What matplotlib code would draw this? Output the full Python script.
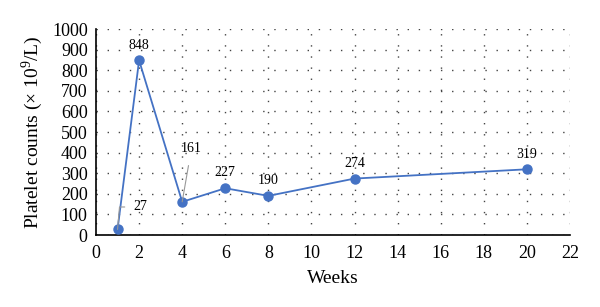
import matplotlib
matplotlib.use("Agg")
import matplotlib.pyplot as plt

weeks = [1, 2, 4, 6, 8, 12, 20]
platelets = [27, 848, 161, 227, 190, 274, 319]
labels = ["27", "848", "161", "227", "190", "274", "319"]

plt.rcParams['font.family'] = ['Liberation Serif', 'DejaVu Serif']
plt.rcParams['mathtext.fontset'] = 'custom'
plt.rcParams['mathtext.rm'] = 'Liberation Serif'

fig = plt.figure(figsize=(6, 3.07), dpi=100)
ax = fig.add_axes([0.16, 0.2345, 0.79, 0.671])

ax.plot(weeks, platelets, color='#4472C4', lw=1.3, marker='o', ms=6.5, zorder=3)

ax.set_xlim(0, 22)
ax.set_ylim(0, 1000)
ax.set_xticks(range(0, 23, 2))
ax.set_yticks(range(0, 1001, 100))
ax.tick_params(axis='both', length=0, labelsize=13)
ax.tick_params(axis='x', pad=7)
ax.tick_params(axis='y', pad=6)

ax.grid(True, color='#444444', linestyle=(0, (1, 7)), lw=1.0)
for s in ['top', 'right']:
    ax.spines[s].set_visible(False)
ax.spines['left'].set_linewidth(1.2)
ax.spines['bottom'].set_linewidth(1.2)

ax.set_xlabel('Weeks', fontsize=14, labelpad=6)
ax.set_ylabel('Platelet counts (\u00d7 10$^{\\mathrm{9}}$/L)', fontsize=14, labelpad=5)

for x, y, t in zip(weeks, platelets, labels):
    if t == "27":
        ax.annotate(t, xy=(x, y), xytext=(1.72, 136), fontsize=10, ha='left', va='center',
                    arrowprops=dict(arrowstyle='-', color='#999999', lw=0.8,
                                    connectionstyle='angle,angleA=0,angleB=85,rad=0',
                                    shrinkA=4, shrinkB=0))
    elif t == "161":
        ax.annotate(t, xy=(x, y), xytext=(3.95, 422), fontsize=10, ha='left', va='center',
                    arrowprops=dict(arrowstyle='-', color='#999999', lw=0.8,
                                    shrinkA=6, shrinkB=0))
    else:
        ax.annotate(t, xy=(x, y), xytext=(0, 11), textcoords='offset points',
                    fontsize=10, ha='center', va='center')

fig.savefig('out.png', dpi=100)
